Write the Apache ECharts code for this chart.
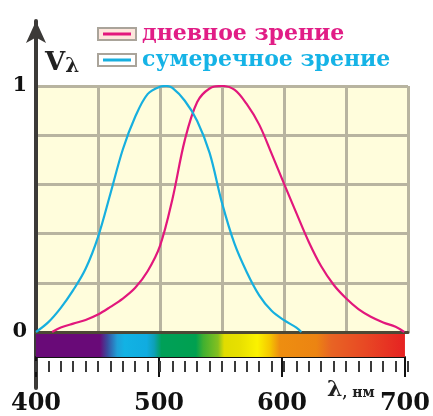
<!DOCTYPE html>
<html>
<head>
<meta charset="utf-8">
<script src="https://cdn.jsdelivr.net/npm/echarts@6/dist/echarts.min.js"></script>
<style>
html,body{margin:0;padding:0;background:#fff;}
#c{width:433px;height:416px;}
</style>
</head>
<body>
<div id="c"></div>
<script>
// ---- data ----
const dayLambda = [413, 420, 430, 440, 450, 460, 470, 480, 490, 500, 510, 520, 530, 540, 550, 560, 570, 580, 590, 600, 610, 620, 630, 640, 650, 660, 670, 680, 690, 697];
const dayV      = [0, 0.018, 0.034, 0.049, 0.071, 0.102, 0.136, 0.18, 0.247, 0.35, 0.54, 0.78, 0.935, 0.99, 1.0, 0.985, 0.926, 0.843, 0.725, 0.603, 0.483, 0.366, 0.267, 0.192, 0.137, 0.093, 0.062, 0.039, 0.021, 0];
const nightLambda = [400, 410, 420, 430, 440, 450, 460, 470, 480, 490, 500, 505, 510, 520, 530, 540, 550, 560, 570, 580, 590, 600, 610, 614];
const nightV      = [0, 0.04, 0.098, 0.17, 0.257, 0.386, 0.562, 0.742, 0.875, 0.967, 0.997, 1.0, 0.992, 0.94, 0.858, 0.728, 0.525, 0.36, 0.243, 0.149, 0.086, 0.048, 0.018, 0];
const seriesNames = ['дневное зрение', 'сумеречное зрение'];
const xRange = [400, 700];
const xTickLabels = [400, 500, 600, 700];
const yTickLabels = [0, 1];
const yTitle = ['V', 'λ'];
const xTitle = ['λ', ', нм'];
const spectrumLambda = [400, 452, 458, 466, 472, 490, 496, 502, 530, 536, 548, 553, 566, 580, 590, 598, 628, 640, 668, 700];

// ---- styles ----
const spectrumColor = ['#690a78', '#690a78', '#3a4c9e', '#20a0d8', '#12b2e4', '#10ace0', '#0ea0b8', '#00a058', '#00a050', '#40b030', '#84c020', '#e0dc00', '#e8e000', '#fbf200', '#f5c800', '#ee8e10', '#ec8412', '#e86424', '#e84824', '#e62222'];
const dayColor = '#e2177c';
const nightColor = '#16afdf';
const gridColor = '#b8b4a0';
const serif = 'DejaVu Serif';

function legendIcon(fill, stroke) {
  const svg = '<svg xmlns="http://www.w3.org/2000/svg" width="40" height="14">' +
    '<rect x="1" y="1" width="38" height="12" fill="' + fill + '" stroke="#aaa49a" stroke-width="2"/>' +
    '<line x1="6" y1="7" x2="34" y2="7" stroke="' + stroke + '" stroke-width="3"/></svg>';
  return 'image://data:image/svg+xml;charset=utf-8,' + encodeURIComponent(svg);
}

const chart = echarts.init(document.getElementById('c'), null, {renderer: 'canvas'});

const option = {
  animation: false,
  backgroundColor: '#ffffff',
  title: [
    {
      text: '{v|' + yTitle[0] + '}{l|' + yTitle[1] + '}',
      left: 40, top: 44,
      textStyle: {rich: {
        v: {fontFamily: serif, fontWeight: 'bold', fontSize: 26, color: '#222'},
        l: {fontFamily: serif, fontWeight: 'bold', fontSize: 20, color: '#222', padding: [8, 0, 0, 0]}
      }}
    },
    {
      text: '{a|' + xTitle[0] + '}{b|' + xTitle[1] + '}',
      left: 322, top: 374,
      textStyle: {rich: {
        a: {fontFamily: serif, fontWeight: 'bold', fontSize: 22, color: '#222'},
        b: {fontFamily: serif, fontWeight: 'bold', fontSize: 14, color: '#222', padding: [6, 0, 0, 0]}
      }}
    }
  ],
  legend: {
    left: 97, top: 23, orient: 'vertical', padding: 0,
    itemWidth: 40, itemHeight: 14, itemGap: 4,
    textStyle: {fontFamily: serif, fontWeight: 'bold', fontSize: 22},
    data: [
      {name: seriesNames[0], icon: legendIcon('#fde6dc', dayColor), textStyle: {color: '#e11d86'}},
      {name: seriesNames[1], icon: legendIcon('#ffffff', nightColor), textStyle: {color: '#15b3e6'}}
    ]
  },
  grid: [
    {left: 36, top: 86, width: 372, height: 246, show: true, backgroundColor: '#fffddc', borderWidth: 0},
    {left: 36, top: 334, width: 372, height: 27},
    {left: 36, top: 21, width: 4, height: 367},
    {left: 36, top: 334, width: 372, height: 27}
  ],
  xAxis: [
    {gridIndex: 0, type: 'value', min: xRange[0], max: xRange[1], interval: 50,
      axisLine: {show: true, lineStyle: {color: '#4d4835', width: 3}},
      axisTick: {show: false}, axisLabel: {show: false},
      splitLine: {show: true, lineStyle: {color: gridColor, width: 3}}},
    {gridIndex: 1, type: 'value', min: xRange[0], max: xRange[1], interval: 100,
      axisLine: {show: true, lineStyle: {color: '#111', width: 2}},
      axisTick: {show: true, length: 20, lineStyle: {color: '#111', width: 2}},
      axisLabel: {margin: 35, fontFamily: serif, fontWeight: 'bold', fontSize: 24, color: '#111',
        formatter: v => xTickLabels.includes(v) ? String(v) : ''},
      splitLine: {show: false}},
    {gridIndex: 2, type: 'value', min: 0, max: 1, show: false},
    {gridIndex: 3, type: 'value', min: xRange[0], max: xRange[1], interval: 10,
      axisLine: {show: false},
      axisTick: {show: true, length: 11, lineStyle: {color: '#3a3a3a', width: 2}},
      axisLabel: {show: false}, splitLine: {show: false}}
  ],
  yAxis: [
    {gridIndex: 0, type: 'value', min: 0, max: 1, interval: 0.2,
      axisLine: {show: false}, axisTick: {show: false},
      axisLabel: {margin: 9, fontFamily: serif, fontWeight: 'bold', fontSize: 21, color: '#111',
        formatter: v => (Math.abs(v - Math.round(v)) < 1e-6 && yTickLabels.includes(Math.round(v))) ? String(Math.round(v)) : ''},
      splitLine: {show: true, lineStyle: {color: gridColor, width: 3}}},
    {gridIndex: 1, type: 'value', min: 0, max: 1, show: false},
    {gridIndex: 2, type: 'value', min: 0, max: 1,
      axisLine: {show: true, symbol: ['none', 'arrow'], symbolSize: [15, 22], lineStyle: {color: '#3c3a38', width: 4}},
      axisTick: {show: false}, axisLabel: {show: false}, splitLine: {show: false}},
    {gridIndex: 3, type: 'value', min: 0, max: 1, show: false}
  ],
  series: [
    {
      type: 'custom', xAxisIndex: 1, yAxisIndex: 1, silent: true,
      data: [[xRange[0], xRange[1]]],
      renderItem: function (params, api) {
        const p0 = api.coord([api.value(0), 0]);
        const p1 = api.coord([api.value(1), 1]);
        const span = xRange[1] - xRange[0];
        const stops = spectrumLambda.map((l, i) => ({offset: (l - xRange[0]) / span, color: spectrumColor[i]}));
        return {
          type: 'rect',
          shape: {x: p0[0], y: p1[1], width: p1[0] - p0[0], height: p0[1] - p1[1]},
          style: {fill: new echarts.graphic.LinearGradient(0, 0, 1, 0, stops)}
        };
      }
    },
    {
      name: seriesNames[0], type: 'line', xAxisIndex: 0, yAxisIndex: 0,
      data: dayLambda.map((l, i) => [l, dayV[i]]),
      showSymbol: false, smooth: 0.35,
      lineStyle: {color: dayColor, width: 2.2}, itemStyle: {color: dayColor}, z: 5
    },
    {
      name: seriesNames[1], type: 'line', xAxisIndex: 0, yAxisIndex: 0,
      data: nightLambda.map((l, i) => [l, nightV[i]]),
      showSymbol: false, smooth: 0.35,
      lineStyle: {color: nightColor, width: 2.2}, itemStyle: {color: nightColor}, z: 5
    }
  ]
};
chart.setOption(option);
</script>
</body>
</html>
